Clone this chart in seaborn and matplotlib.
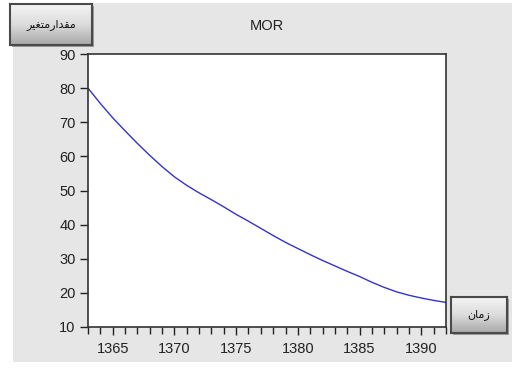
import numpy as np
import matplotlib
matplotlib.use("Agg")
import matplotlib.pyplot as plt
import seaborn as sns
import pandas as pd
from matplotlib.patches import Rectangle
from matplotlib.ticker import MultipleLocator

years = list(range(1363, 1393))
mor = [80.0, 75.5, 71.3, 67.5, 63.8, 60.3, 57.0, 54.0, 51.5, 49.3,
       47.3, 45.2, 43.0, 41.0, 38.9, 36.8, 34.8, 33.0, 31.2, 29.5,
       27.9, 26.3, 24.8, 23.1, 21.6, 20.3, 19.3, 18.5, 17.8, 17.2]
title = "MOR"
# Arabic presentation forms in visual order (matplotlib does no shaping)
ylabel_btn = "\uFEAE\uFEF4\uFED0\uFE98\uFEE3\uFEAD\uFE8D\uFEAA\uFED8\uFEE3"  # مقدارمتغیر
xlabel_btn = "\uFEE5\uFE8E\uFEE3\uFEAF"  # زمان

df = pd.DataFrame({"year": years, "MOR": mor})

sns.set_style("ticks")
plt.rcParams['font.family'] = ['Arial', 'Liberation Sans', 'DejaVu Sans']

W, H = 524, 369
fig = plt.figure(figsize=(W / 100, H / 100), dpi=100)
fig.patch.set_facecolor("white")


def fx(px):
    return px / W


def fy(py):
    return 1 - py / H


# gray panel
fig.patches.append(Rectangle((fx(13), fy(362)), fx(512) - fx(13), fy(3) - fy(362),
                             transform=fig.transFigure, facecolor="#e6e6e6",
                             edgecolor="none", zorder=-5))

ax = fig.add_axes([fx(88), fy(327), fx(446) - fx(88), fy(54) - fy(327)], zorder=1)
sns.lineplot(data=df, x="year", y="MOR", ax=ax, color="#3434c4", linewidth=1.0)
ax.set_xlim(1363, 1392)
ax.set_ylim(10, 90)
ax.xaxis.set_major_locator(MultipleLocator(5))
ax.xaxis.set_minor_locator(MultipleLocator(1))
ax.yaxis.set_major_locator(MultipleLocator(10))
ax.tick_params(axis="both", which="major", length=6, width=1, labelsize=10.5, color="#222222",
               labelcolor="#222222")
ax.tick_params(axis="x", which="minor", length=5, width=1, color="#222222")
ax.tick_params(axis="x", pad=5)
ax.tick_params(axis="y", pad=3)
ax.set_xlabel("")
ax.set_ylabel("")
for s in ax.spines.values():
    s.set_color("#333333")
    s.set_linewidth(1.2)
ax.set_facecolor("white")

fig.text(fx(267), fy(26), title, ha="center", va="center", fontsize=10.5, color="#222222")


def button(x0, y0, x1, y1, label):
    # shadow
    fig.patches.append(Rectangle((fx(x0 + 2), fy(y1 + 2)), fx(x1) - fx(x0), fy(y0) - fy(y1),
                                 transform=fig.transFigure, facecolor="#9a9a9a",
                                 edgecolor="none", zorder=3))
    bax = fig.add_axes([fx(x0), fy(y1), fx(x1) - fx(x0), fy(y0) - fy(y1)], zorder=4)
    grad = np.linspace(0, 1, 50).reshape(-1, 1)
    bax.imshow(grad, aspect="auto", cmap=matplotlib.colors.LinearSegmentedColormap.from_list(
        "btn", ["#f4f4f4", "#dcdcdc", "#a8a8a8"]), extent=[0, 1, 0, 1])
    bax.set_xticks([])
    bax.set_yticks([])
    for s in bax.spines.values():
        s.set_color("#4a4a4a")
        s.set_linewidth(1.5)
    bax.text(0.5, 0.5, label, ha="center", va="center", fontsize=8,
             family=["DejaVu Sans"], color="#111111", transform=bax.transAxes)


button(10, 4, 92, 45, ylabel_btn)
button(451, 297, 507, 333, xlabel_btn)

fig.savefig("out.png", dpi=100)
